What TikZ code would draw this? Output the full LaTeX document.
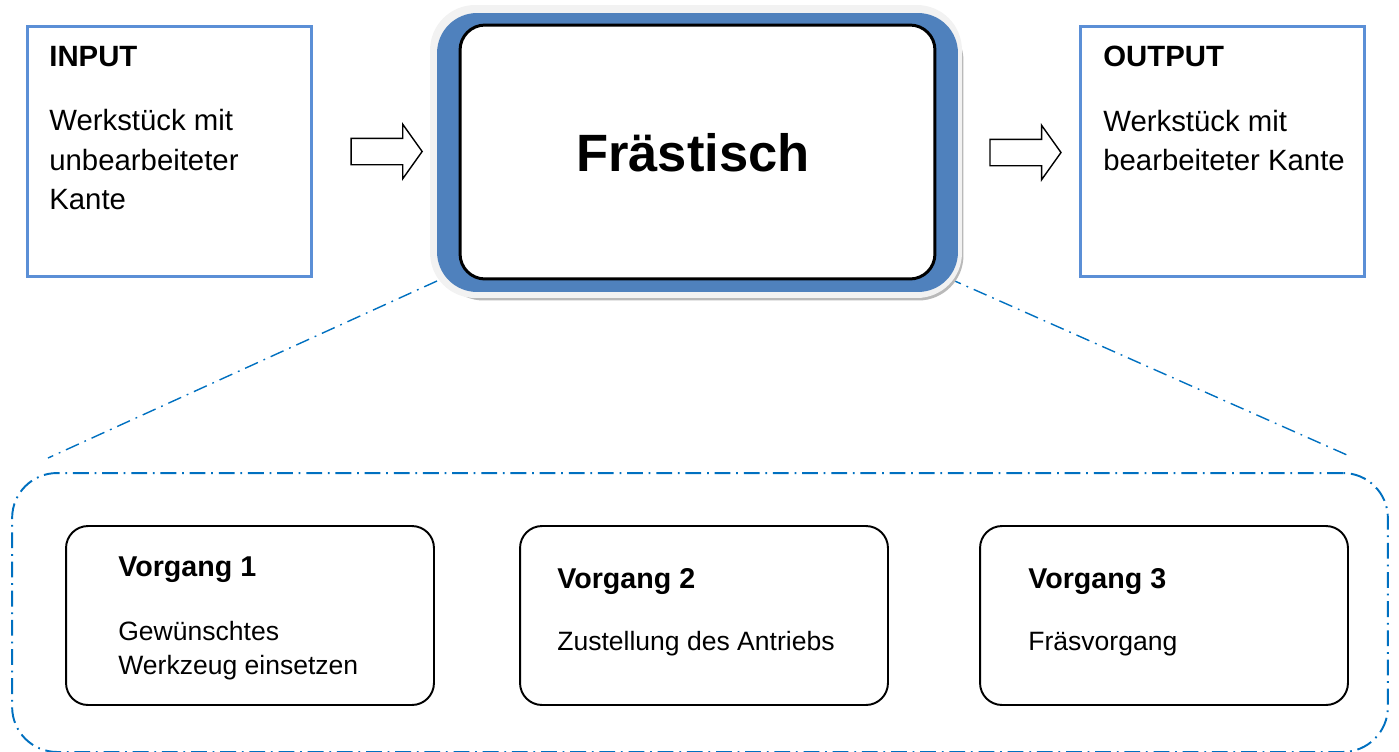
\documentclass[tikz,border=0pt]{standalone}
\usepackage{fontspec}
\setmainfont{Liberation Sans}
\usetikzlibrary{positioning,shapes.arrows}

\definecolor{frameblue}{HTML}{4F81BD}
\definecolor{ioblue}{HTML}{5B8FD6}
\definecolor{lineblue}{HTML}{0070C0}

\newcommand{\txtfont}{\fontsize{16.7}{22.2}\selectfont}
\newcommand{\stepfont}{\fontsize{15.1}{18.8}\selectfont}

\tikzset{
  iobox/.style = {draw=ioblue, line width=1.7pt, minimum width=5.7cm,
                  minimum height=5.02cm, inner sep=0pt},
  flowarrow/.style = {single arrow, draw, line width=0.8pt, inner sep=0.25cm,
                      minimum height=1.42cm, single arrow head extend=0.28cm,
                      single arrow tip angle=109},
  dashdot/.style = {draw=lineblue, line width=0.8pt,
                    dash pattern=on 8pt off 3.5pt on 1pt off 3.5pt},
  stepbox/.style = {draw, line width=1.1pt, rounded corners=0.44cm,
                    minimum width=7.36cm, minimum height=3.58cm, inner sep=0pt},
  heading/.style = {font=\bfseries\txtfont, anchor=base west, inner sep=0pt},
  plain/.style = {font=\txtfont, anchor=base west, inner sep=0pt, align=left},
}

\begin{document}
\begin{tikzpicture}[x=0.02cm, y=-0.02cm]
  \useasboundingbox (0,0) rectangle (1399,751);

  % input / output
  \node[iobox] (input) at (169.5,151.5) {};
  \node[iobox] (output) at (1222.5,151.5) {};
  \node[heading] (inhead) at (49,66) {INPUT};
  \node[plain] (intext) at (49,209) {Werkstück mit\\unbearbeiteter\\Kante};
  \node[heading] (outhead) at (1103,66) {OUTPUT};
  \node[plain] (outtext) at (1103,170) {Werkstück mit\\bearbeiteter Kante};

  % sub steps
  \coordinate (fanL) at (437,281);
  \coordinate (fanLend) at (48,458);
  \coordinate (fanR) at (948,278);
  \coordinate (fanRend) at (1347,455);
  \draw[dashdot] (fanL) -- (fanLend);
  \draw[dashdot] (fanR) -- (fanRend);
  \node[dashdot, line width=1.1pt, dash pattern=on 9pt off 3.3pt on 1pt off 3.3pt,
        rounded corners=0.9cm, minimum width=27.52cm,
        minimum height=5.58cm] (steps) at (700,612.5) {};

  % machine
  \node[fill=gray!55, rounded corners=0.9cm, minimum width=10.5cm,
        minimum height=5.7cm] (tableshadow) at (701,158) {};
  \node[fill=gray!10, rounded corners=0.9cm, minimum width=10.64cm,
        minimum height=5.86cm] (tableglow) at (696,151.5) {};
  \node[fill=frameblue, rounded corners=0.8cm, minimum width=10.42cm,
        minimum height=5.58cm] (tableframe) at (697.5,152.5) {};
  \node[draw, fill=white, line width=1.7pt, rounded corners=0.5cm,
        minimum width=9.5cm, minimum height=5.08cm] (table) at (697.5,152) {};
  \node[font=\bfseries\fontsize{29.9}{36}\selectfont] (tabletext) at (693,153) {Frästisch};

  \node[flowarrow, right=0.74cm of input] (inarrow) {};
  \node[flowarrow, right=0.62cm of tableframe] (outarrow) {};

  \node[stepbox] (v1) at (250,615.5) {};
  \node[stepbox] (v2) at (704,615.5) {};
  \node[stepbox] (v3) at (1164,615.5) {};

  \node[heading, font=\bfseries\fontsize{16.3}{18.8}\selectfont] (v1head) at (118,576) {Vorgang 1};
  \node[plain, font=\stepfont] (v1text) at (118,674) {Gewünschtes\\Werkzeug einsetzen};
  \node[heading, font=\bfseries\fontsize{16.3}{18.8}\selectfont] (v2head) at (557,588) {Vorgang 2};
  \node[plain, font=\stepfont] (v2text) at (557,650) {Zustellung des Antriebs};
  \node[heading, font=\bfseries\fontsize{16.3}{18.8}\selectfont] (v3head) at (1028,588) {Vorgang 3};
  \node[plain, font=\stepfont] (v3text) at (1028,650) {Fräsvorgang};
\end{tikzpicture}
\end{document}
